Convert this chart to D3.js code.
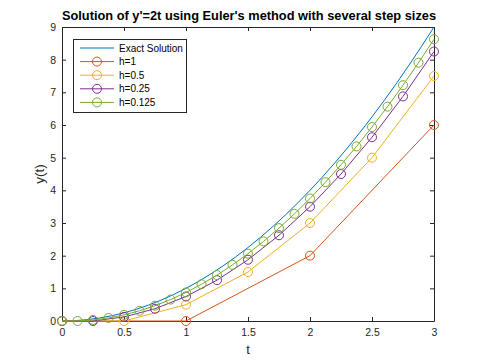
<!DOCTYPE html>
<html><head><meta charset="utf-8">
<script src="https://cdn.jsdelivr.net/npm/d3@7"></script>
<style>body{margin:0;background:#fff;} text{font-family:"Liberation Sans",Arial,sans-serif;}</style>
</head><body><svg id="c" width="480" height="360"></svg>
<script>
const exactT = [0,0.1,0.2,0.3,0.4,0.5,0.6,0.7,0.8,0.9,1,1.1,1.2,1.3,1.4,1.5,1.6,1.7,1.8,1.9,2,2.1,2.2,2.3,2.4,2.5,2.6,2.7,2.8,2.9,3];
const exactY = [0,0.01,0.04,0.09,0.16,0.25,0.36,0.49,0.64,0.81,1,1.21,1.44,1.69,1.96,2.25,2.56,2.89,3.24,3.61,4,4.41,4.84,5.29,5.76,6.25,6.76,7.29,7.84,8.41,9];
const h1T = [0,1,2,3];
const h1Y = [0,0,2,6];
const h05T = [0,0.5,1,1.5,2,2.5,3];
const h05Y = [0,0,0.5,1.5,3,5,7.5];
const h025T = [0,0.25,0.5,0.75,1,1.25,1.5,1.75,2,2.25,2.5,2.75,3];
const h025Y = [0,0,0.125,0.375,0.75,1.25,1.875,2.625,3.5,4.5,5.625,6.875,8.25];
const h0125T = [0,0.125,0.25,0.375,0.5,0.625,0.75,0.875,1,1.125,1.25,1.375,1.5,1.625,1.75,1.875,2,2.125,2.25,2.375,2.5,2.625,2.75,2.875,3];
const h0125Y = [0,0,0.03125,0.09375,0.1875,0.3125,0.46875,0.65625,0.875,1.125,1.40625,1.71875,2.0625,2.4375,2.84375,3.28125,3.75,4.25,4.78125,5.34375,5.9375,6.5625,7.21875,7.90625,8.625];
const xTicks = [0,0.5,1,1.5,2,2.5,3];
const xTickLabels = ["0","0.5","1","1.5","2","2.5","3"];
const yTicks = [0,1,2,3,4,5,6,7,8,9];
const seriesNames = ["Exact Solution","h=1","h=0.5","h=0.25","h=0.125"];
const colors = ["#0072BD","#D95319","#EDB120","#7E2F8E","#77AC30"];

const svg = d3.select("#c");
const L=62,R=434,T=27,B=321;
const x = d3.scaleLinear().domain([0,3]).range([L,R]);
const y = d3.scaleLinear().domain([0,9]).range([B,T]);
const axc = "#262626";

const gx = svg.append("g").attr("transform",`translate(0,${B})`)
  .call(d3.axisBottom(x).tickValues(xTicks).tickFormat((d,i)=>xTickLabels[i]).tickSizeInner(-4).tickSizeOuter(0).tickPadding(8));
const gxt = svg.append("g").attr("transform",`translate(0,${T})`)
  .call(d3.axisTop(x).tickValues(xTicks).tickFormat("").tickSizeInner(-4).tickSizeOuter(0));
const gy = svg.append("g").attr("transform",`translate(${L},0)`)
  .call(d3.axisLeft(y).tickValues(yTicks).tickFormat(d3.format("d")).tickSizeInner(-4).tickSizeOuter(0).tickPadding(6));
const gyr = svg.append("g").attr("transform",`translate(${R},0)`)
  .call(d3.axisRight(y).tickValues(yTicks).tickFormat("").tickSizeInner(-4).tickSizeOuter(0));
[gx,gxt,gy,gyr].forEach(g=>{
  g.select(".domain").attr("stroke",axc).attr("stroke-width",1);
  g.selectAll(".tick line").attr("stroke",axc);
  g.selectAll(".tick text").attr("fill",axc).style("font-size","10.5px").style("font-family","Liberation Sans, Arial, sans-serif");
});

const series = [
  {t:exactT,v:exactY,marker:false},
  {t:h1T,v:h1Y,marker:true},
  {t:h05T,v:h05Y,marker:true},
  {t:h025T,v:h025Y,marker:true},
  {t:h0125T,v:h0125Y,marker:true}
];
const line = d3.line().x(d=>x(d[0])).y(d=>y(d[1]));
series.forEach((s,i)=>{
  const pts = s.t.map((t,j)=>[t,s.v[j]]);
  svg.append("path").datum(pts).attr("d",line).attr("fill","none").attr("stroke",colors[i]).attr("stroke-width",1);
  if(s.marker){
    svg.append("g").selectAll("circle").data(pts).join("circle")
      .attr("cx",d=>x(d[0])).attr("cy",d=>y(d[1])).attr("r",4.5)
      .attr("fill","none").attr("stroke",colors[i]).attr("stroke-width",1);
  }
});

svg.append("text").attr("x",(L+R)/2+1).attr("y",20).attr("text-anchor","middle")
  .style("font-size","12.8px").style("font-weight","bold").attr("fill","#000")
  .text("Solution of y'=2t using Euler's method with several step sizes");
svg.append("text").attr("x",(L+R)/2).attr("y",354).attr("text-anchor","middle")
  .style("font-size","13px").attr("fill",axc).text("t");
svg.append("text").attr("transform",`translate(44,${(T+B)/2}) rotate(-90)`).attr("text-anchor","middle")
  .style("font-size","13.5px").attr("fill",axc).text("y(t)");

const lg = svg.append("g");
lg.append("rect").attr("x",73.5).attr("y",39.5).attr("width",113).attr("height",73)
  .attr("fill","#fff").attr("stroke",axc).attr("stroke-width",1);
seriesNames.forEach((n,i)=>{
  const yy = 48 + i*13.6;
  lg.append("line").attr("x1",80).attr("x2",114).attr("y1",yy).attr("y2",yy).attr("stroke",colors[i]).attr("stroke-width",1);
  if(i>0) lg.append("circle").attr("cx",97).attr("cy",yy).attr("r",4.5).attr("fill","none").attr("stroke",colors[i]);
  lg.append("text").attr("x",119).attr("y",yy+3.6).style("font-size","10px").attr("fill","#000").text(n);
});
</script></body></html>
